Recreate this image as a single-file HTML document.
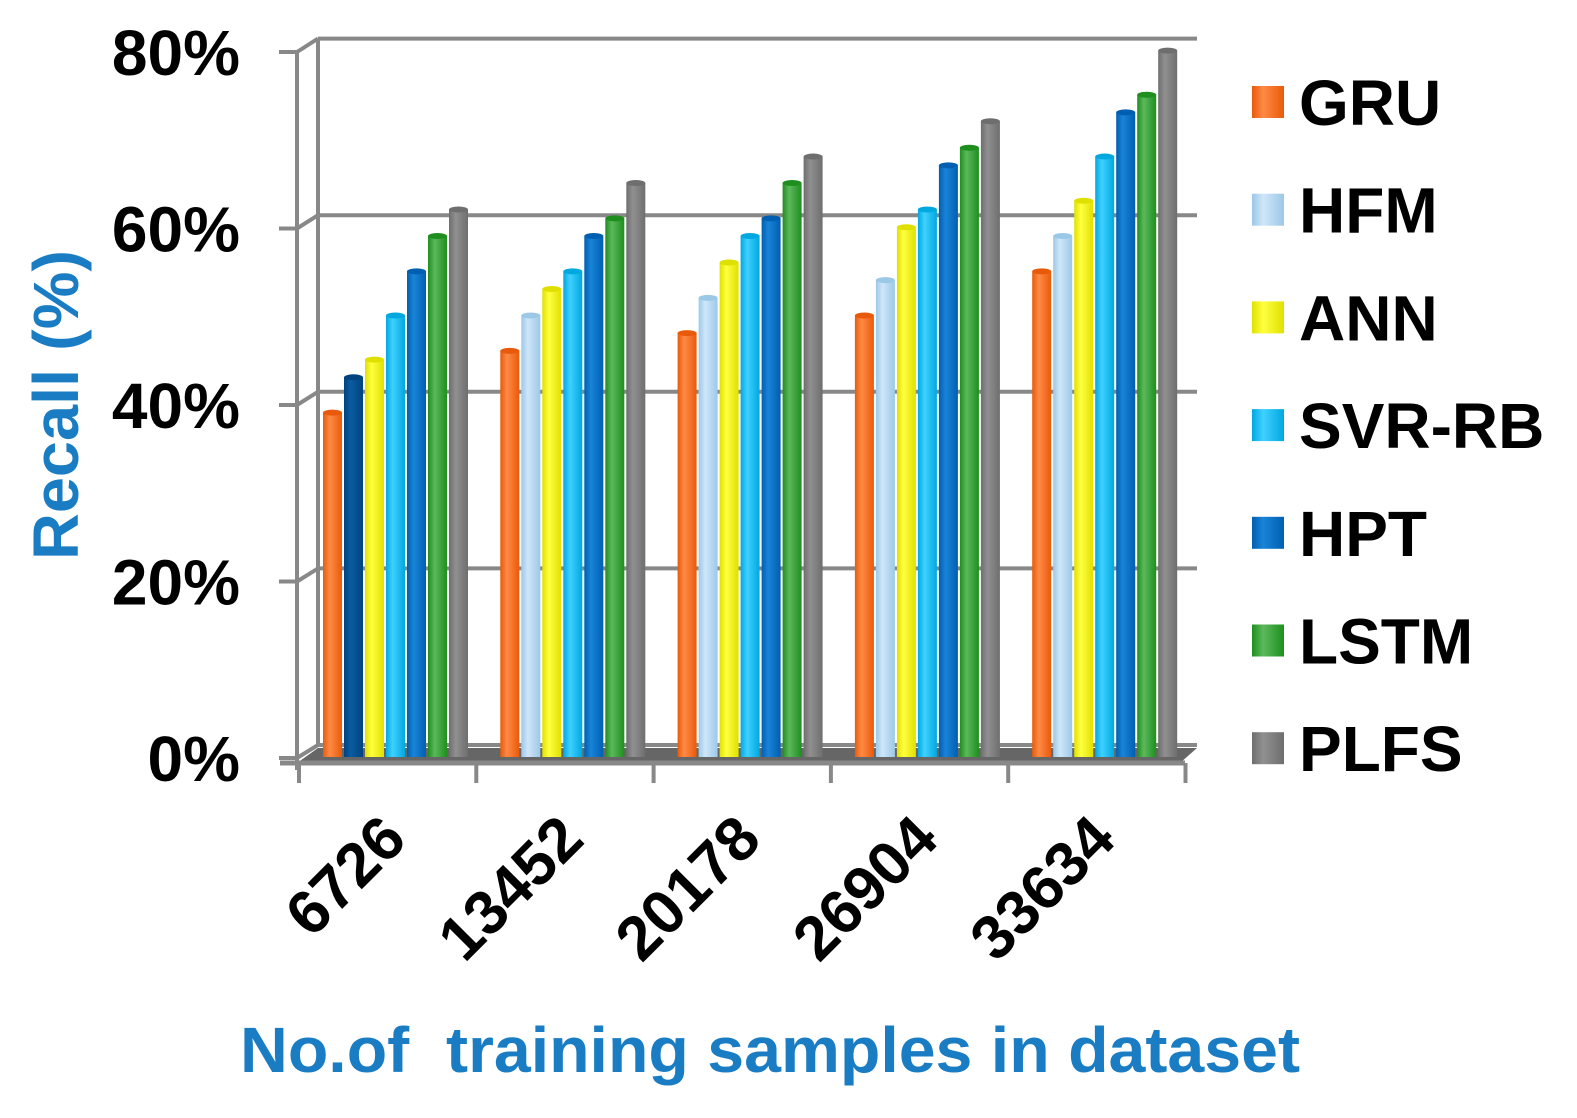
<!DOCTYPE html>
<html><head><meta charset="utf-8"><style>
html,body{margin:0;padding:0;background:#fff;}
svg{display:block;font-family:"Liberation Sans",Arial,sans-serif;font-weight:bold;}
</style></head><body>
<svg id="chart" width="1577" height="1118" viewBox="0 0 1577 1118" xmlns="http://www.w3.org/2000/svg">
<defs id="defs"></defs>
<g id="axes"></g>
<g id="bars"></g>
<g id="labels"></g>
<g id="legend"></g>
<text x="78" y="405" transform="rotate(-90 78 405)" text-anchor="middle" font-size="64" textLength="310" lengthAdjust="spacingAndGlyphs" fill="#1a7dc4">Recall (%)</text>
<text x="240" y="1072" font-size="64" textLength="1060" lengthAdjust="spacingAndGlyphs" fill="#1a7dc4" style="white-space:pre">No.of  training samples in dataset</text>
</svg>
<script>
const categories = ["6726","13452","20178","26904","33634"];
const seriesNames = ["GRU","HFM","ANN","SVR-RB","HPT","LSTM","PLFS"];
const gru  = [39,46,48,50,55];
const hfm  = [43,50,52,54,59];
const ann  = [45,53,56,60,63];
const svr  = [50,55,59,62,68];
const hpt  = [55,59,61,67,73];
const lstm = [59,61,65,69,75];
const plfs = [62,65,68,72,80];
const yTicks = [0,20,40,60,80];
const yTickLabels = ["0%","20%","40%","60%","80%"];

const series = [gru,hfm,ann,svr,hpt,lstm,plfs];
const colors = [["#e85a0a","#ff8a45"],["#9cc8e8","#cfe6f8"],["#e0e000","#ffff40"],["#00a8e0","#40d0ff"],["#005fb0","#1a84d8"],["#1e8f1e","#5cb85c"],["#6e6e6e","#909090"]];
const hfmFirstColor = ["#00437f","#0a5ca0"];
const NS = "http://www.w3.org/2000/svg";
function mk(tag, attrs, parent){const e=document.createElementNS(NS,tag);for(const k in attrs)e.setAttribute(k,attrs[k]);parent.appendChild(e);return e;}
const yFront = v => 758 - v*8.825;
const yBack = v => 745 - v*8.83;
const yBar = v => 757 - v*8.83;
const groupW = 177.3;
const xTick = i => 299 + i*groupW;
const barX = (g,s) => 323 + g*groupW + s*21;
const defs = document.getElementById('defs');
function grad(id,c){const lg=mk('linearGradient',{id:id,x1:0,x2:1,y1:0,y2:0},defs);mk('stop',{offset:'0','stop-color':c[0]},lg);mk('stop',{offset:'0.35','stop-color':c[1]},lg);mk('stop',{offset:'1','stop-color':c[0]},lg);}
colors.forEach((c,i)=>grad('g'+i,c));
grad('gx',hfmFirstColor);

const axes=document.getElementById('axes');
yTicks.forEach((t,i)=>{
  const gl=mk('line',{x1:318,x2:1197,y1:yBack(t),y2:yBack(t),stroke:'#888',"stroke-width":4},axes);
  
  
  mk('line',{x1:297,x2:318,y1:yFront(t),y2:yBack(t),stroke:'#888',"stroke-width":4},axes);
  mk('line',{x1:279,x2:297,y1:yFront(t),y2:yFront(t),stroke:'#888',"stroke-width":4},axes);
  const tl=mk('text',{x:240,y:yFront(t)+23,"text-anchor":"end","font-size":64,fill:'#000'},axes);
  tl.textContent=yTickLabels[i];
  
  
});
mk('line',{x1:318,x2:318,y1:yBack(80),y2:yBack(0),stroke:'#888',"stroke-width":4},axes);
mk('line',{x1:297,x2:297,y1:yFront(80)-2,y2:770,stroke:'#888',"stroke-width":4},axes);
mk('polygon',{points:`297,763 318,748 1197,748 1180,763`,fill:'#666'},axes);
mk('line',{x1:280,x2:1185,y1:763,y2:763,stroke:'#888',"stroke-width":5},axes);
for(let i=0;i<=categories.length;i++){mk('line',{x1:xTick(i),x2:xTick(i),y1:763,y2:783,stroke:'#888',"stroke-width":4},axes);}

const bars=document.getElementById('bars');
series.forEach((arr,s)=>{
  arr.forEach((v,g)=>{
    const x=barX(g,s), y=yBar(v), w=19;
    const fill=(s===1&&g===0)?'url(#gx)':'url(#g'+s+')';
    const r=mk('rect',{x:x,y:y,width:w,height:757-y,fill:fill},bars);
    
    
    mk('ellipse',{cx:x+w/2,cy:y,rx:w/2,ry:3,fill:(s===1&&g===0)?hfmFirstColor[0]:colors[s][0]},bars);
  });
});

const labels=document.getElementById('labels');
categories.forEach((c,i)=>{
  const ax=xTick(i)+110, ay=842;
  const t=mk('text',{x:ax,y:ay,"text-anchor":"end","font-size":62,fill:'#000',transform:`rotate(-45 ${ax} ${ay})`},labels);
  t.textContent=c;
  
  
});

const legend=document.getElementById('legend');
seriesNames.forEach((n,i)=>{
  const cy=102+i*107.7;
  const sq=mk('rect',{x:1252,y:cy-16,width:32,height:32,fill:'url(#g'+i+')'},legend);
  
  
  const t=mk('text',{x:1299,y:cy+23,"font-size":64,fill:'#000'},legend);
  t.textContent=n;
  
  
});
</script>
</body></html>
